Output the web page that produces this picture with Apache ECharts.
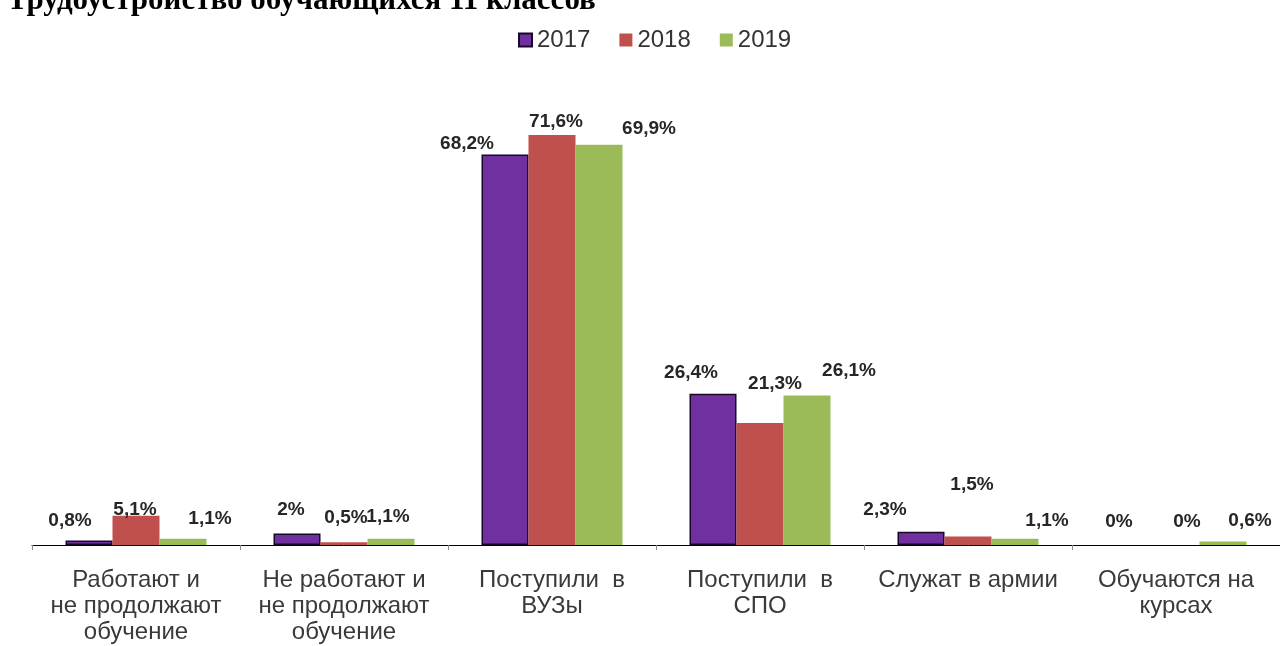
<!DOCTYPE html>
<html>
<head>
<meta charset="utf-8">
<script src="https://cdn.jsdelivr.net/npm/echarts@6/dist/echarts.min.js"></script>
<style>html,body{margin:0;padding:0;background:#fff;}#c{width:1280px;height:646px;}</style>
</head>
<body>
<div id="c"></div>
<script>
const categories = [
  'Работают и\nне продолжают\nобучение',
  'Не работают и\nне продолжают\nобучение',
  'Поступили  в\nВУЗы',
  'Поступили  в\nСПО',
  'Служат в армии',
  'Обучаются на\nкурсах'
];
const seriesNames = ['2017', '2018', '2019'];
const values2017 = [0.8, 2, 68.2, 26.4, 2.3, 0];
const values2018 = [5.1, 0.5, 71.6, 21.3, 1.5, 0];
const values2019 = [1.1, 1.1, 69.9, 26.1, 1.1, 0.6];

// label nudges (styling only)
const labelOffsets = [
  [[-19,-5],[-6,-9],[-38,4],[-22,-7],[-36,-8],[-10,-9]],
  [[-1,8],[2,-10],[4,1],[15,-25],[4,-37],[11,-9]],
  [[27,-5],[-3,-7],[50,-2],[42,-10],[32,-3],[27,-6]]
];
const colors = ['#7030A0', '#C0504D', '#9BBB59'];

const fmt = v => String(v).replace('.', ',') + '%';

function mkSeries(name, vals, idx) {
  return {
    name: name,
    type: 'bar',
    barWidth: 47,
    barGap: '0%',
    itemStyle: idx === 0 ? {color: colors[idx], borderColor: '#160826', borderWidth: 1.5} : {color: colors[idx]},
    data: vals.map((v, i) => ({
      value: v,
      itemStyle: v === 0 ? {borderWidth: 0} : undefined,
      label: {offset: labelOffsets[idx][i]}
    })),
    label: {
      show: true,
      position: 'top',
      distance: 5,
      formatter: p => fmt(p.value),
      fontFamily: 'Liberation Sans, Arial, sans-serif',
      fontWeight: 'bold',
      fontSize: 19,
      color: '#262626'
    }
  };
}

const chart = echarts.init(document.getElementById('c'), null, {renderer: 'canvas'});
chart.setOption({
  animation: false,
  backgroundColor: '#ffffff',
  title: {
    text: 'Трудоустройство обучающихся 11 классов',
    left: 2,
    top: -20,
    textStyle: {fontFamily: 'Liberation Serif, Times New Roman, serif', fontWeight: 'bold', fontSize: 31, color: '#000'}
  },
  legend: {
    data: seriesNames,
    left: 513,
    top: 23,
    itemWidth: 13,
    itemHeight: 13,
    itemGap: 29,
    icon: 'rect',
    textStyle: {fontFamily: 'Liberation Sans, Arial, sans-serif', fontSize: 24, color: '#333'}
  },
  grid: {left: 32, right: -4, top: 87, bottom: 101, containLabel: false},
  xAxis: {
    type: 'category',
    data: categories,
    axisLine: {show: true, lineStyle: {color: '#000', width: 1}},
    axisTick: {show: true, length: 5, lineStyle: {color: '#888'}},
    axisLabel: {
      interval: 0,
      margin: 22,
      fontFamily: 'Liberation Sans, Arial, sans-serif',
      fontSize: 24,
      lineHeight: 26,
      color: '#3a3a3a'
    }
  },
  yAxis: {
    type: 'value',
    min: 0,
    max: 80,
    show: false,
    splitLine: {show: false}
  },
  series: [
    mkSeries(seriesNames[0], values2017, 0),
    mkSeries(seriesNames[1], values2018, 1),
    mkSeries(seriesNames[2], values2019, 2)
  ]
});
</script>
</body>
</html>
